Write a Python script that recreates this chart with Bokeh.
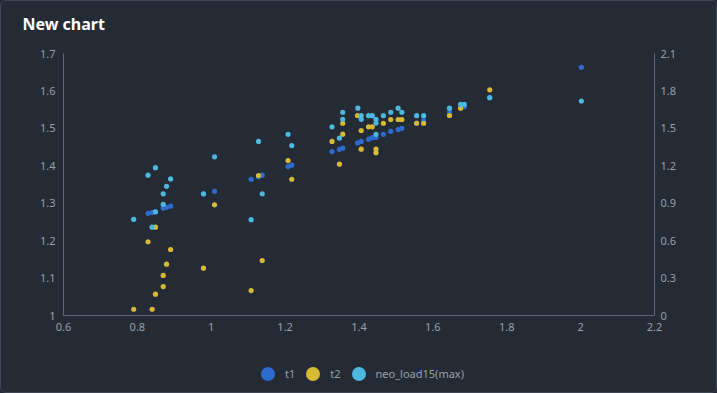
from bokeh.plotting import figure
from bokeh.layouts import column
from bokeh.models import (Range1d, LinearAxis, FixedTicker, CustomJSTickFormatter,
                          Legend, LegendItem, Title)
from bokeh.embed import file_html
from bokeh.resources import INLINE

# ---------------- data ----------------
x_ticks = [0.6, 0.8, 1, 1.2, 1.4, 1.6, 1.8, 2, 2.2]
left_ticks = [1, 1.1, 1.2, 1.3, 1.4, 1.5, 1.6, 1.7]
right_ticks = [0, 0.3, 0.6, 0.9, 1.2, 1.5, 1.8, 2.1]

chart_title = "New chart"
series_names = ["t1", "t2", "neo_load15(max)"]
series_colors = ["#2d6bcd", "#d6b935", "#4cb7df"]

t1_x = [0.790, 0.829, 0.840, 0.849, 0.870, 0.879, 0.890, 0.979, 1.009, 1.108,
        1.128, 1.138, 1.208, 1.218, 1.327, 1.347, 1.356, 1.396, 1.406, 1.426,
        1.436, 1.446, 1.466, 1.486, 1.506, 1.516, 1.556, 1.575, 1.645, 1.685,
        1.754, 2.002]
t1_y = [1.257, 1.273, 1.275, 1.277, 1.287, 1.289, 1.292, 1.325, 1.332, 1.364,
        1.371, 1.375, 1.398, 1.402, 1.438, 1.444, 1.447, 1.461, 1.465, 1.471,
        1.475, 1.476, 1.484, 1.492, 1.497, 1.500, 1.514, 1.521, 1.543, 1.558,
        1.582, 1.663]

t2_x = [0.790, 0.829, 0.840, 0.849, 0.849, 0.870, 0.870, 0.879, 0.890, 0.979,
        1.009, 1.108, 1.128, 1.138, 1.208, 1.218, 1.327, 1.347, 1.356, 1.356,
        1.396, 1.406, 1.406, 1.426, 1.436, 1.446, 1.446, 1.466, 1.486, 1.506,
        1.516, 1.556, 1.575, 1.645, 1.675, 1.754]
t2_y = [0.050, 0.591, 0.050, 0.708, 0.171, 0.321, 0.232, 0.411, 0.529, 0.379,
        0.887, 0.200, 1.122, 0.441, 1.242, 1.092, 1.395, 1.213, 1.541, 1.453,
        1.603, 1.483, 1.333, 1.512, 1.512, 1.333, 1.304, 1.541, 1.571, 1.571,
        1.571, 1.541, 1.541, 1.603, 1.662, 1.809]

neo_x = [0.790, 0.829, 0.840, 0.849, 0.849, 0.870, 0.870, 0.879, 0.890, 0.979,
         1.009, 1.108, 1.128, 1.138, 1.208, 1.218, 1.327, 1.347, 1.356, 1.356,
         1.397, 1.406, 1.406, 1.426, 1.436, 1.446, 1.446, 1.446, 1.466, 1.486,
         1.506, 1.516, 1.556, 1.575, 1.645, 1.675, 1.685, 1.754, 2.002]
neo_y = [1.257, 1.375, 1.236, 1.395, 1.277, 1.325, 1.297, 1.345, 1.365, 1.325,
         1.424, 1.256, 1.465, 1.325, 1.484, 1.454, 1.504, 1.474, 1.543, 1.524,
         1.554, 1.534, 1.524, 1.534, 1.534, 1.524, 1.514, 1.484, 1.534, 1.543,
         1.554, 1.543, 1.534, 1.534, 1.554, 1.564, 1.564, 1.582, 1.573]

# ---------------- style ----------------
CARD = "#242b35"
EDGE = "#3f4752"
AXIS = "#5f6873"
TICK_TXT = "#98a0aa"
FONT = "Noto Sans"

W = 715
H_TITLE = 44
H_MAIN = 295
H_LEG = 52


def strip(height):
    f = figure(width=W, height=height, output_backend="svg", toolbar_location=None,
               x_axis_type=None, y_axis_type=None,
               x_range=Range1d(10, 11), y_range=Range1d(10, 11),
               background_fill_color=CARD, border_fill_color=CARD,
               min_border=0, outline_line_color=None)
    f.grid.visible = False
    return f


# ---- title strip ----
tf = strip(H_TITLE)
tf.add_layout(Title(text=chart_title, text_color="#ffffff", text_font=FONT,
                    text_font_size="16px", text_font_style="bold", align="left",
                    offset=-41, standoff=18), "above")

# ---- main chart ----
p = figure(width=W, height=H_MAIN, output_backend="svg", toolbar_location=None,
           x_range=Range1d(0.6, 2.2), y_range=Range1d(1, 1.7),
           background_fill_color=CARD, border_fill_color=CARD,
           min_border_left=62, min_border_right=62, min_border_top=8,
           min_border_bottom=25, outline_line_color=None)
p.extra_y_ranges = {"right": Range1d(0, 2.1)}

fmt = CustomJSTickFormatter(code="return String(Math.round(tick*10)/10)")


def style_axis(ax, ticks):
    ax.ticker = FixedTicker(ticks=ticks)
    ax.formatter = fmt
    ax.axis_line_color = AXIS
    ax.major_tick_line_color = None
    ax.minor_tick_line_color = None
    ax.major_tick_out = 0
    ax.major_tick_in = 0
    ax.minor_tick_out = 0
    ax.major_label_text_color = TICK_TXT
    ax.major_label_text_font = FONT
    ax.major_label_text_font_size = "11px"


style_axis(p.xaxis[0], x_ticks)
p.xaxis[0].major_label_standoff = 7
style_axis(p.yaxis[0], left_ticks)
p.yaxis[0].major_label_standoff = 8
right_axis = LinearAxis(y_range_name="right")
style_axis(right_axis, right_ticks)
right_axis.major_label_standoff = 6
p.add_layout(right_axis, "right")
p.grid.visible = False

p.scatter(t1_x, t1_y, size=5.2, color=series_colors[0], line_color=None)
p.scatter(t2_x, t2_y, size=5.2, color=series_colors[1], line_color=None,
          y_range_name="right")
p.scatter(neo_x, neo_y, size=5.2, color=series_colors[2], line_color=None)

# ---- legend strip (same series, drawn outside its ranges so only the key shows) ----
lf = strip(H_LEG)
l1 = lf.scatter(t1_x, t1_y, color=series_colors[0], line_color=None)
l2 = lf.scatter(t2_x, t2_y, color=series_colors[1], line_color=None)
l3 = lf.scatter(neo_x, neo_y, color=series_colors[2], line_color=None)

legend = Legend(items=[LegendItem(label=series_names[0], renderers=[l1]),
                       LegendItem(label=series_names[1], renderers=[l2]),
                       LegendItem(label=series_names[2], renderers=[l3])],
                orientation="horizontal", location=(187, 1.5),
                glyph_width=35, glyph_height=35, label_standoff=0, spacing=0,
                label_width=0, padding=0, margin=0, border_line_color=None,
                background_fill_alpha=0, label_text_color=TICK_TXT,
                label_text_font=FONT, label_text_font_size="11px")
lf.add_layout(legend, "center")

layout = column(tf, p, lf, spacing=0,
                styles={"border": "1px solid %s" % EDGE, "border-radius": "6px",
                        "background-color": CARD, "overflow": "hidden"})

html = file_html(layout, INLINE, title=chart_title)
html = html.replace("<head>", "<head><style>html,body{margin:0;padding:0;background:%s;overflow:hidden}</style>" % CARD, 1)
open("out.html", "w").write(html)
